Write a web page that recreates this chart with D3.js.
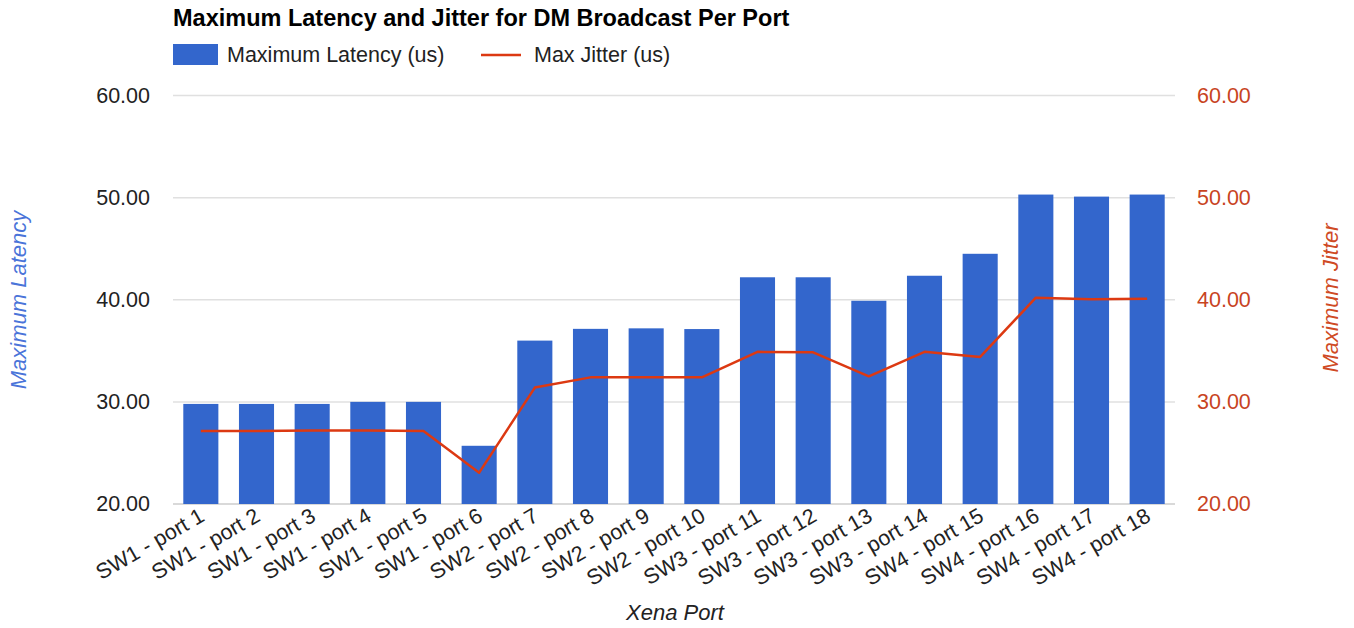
<!DOCTYPE html>
<html>
<head>
<meta charset="utf-8">
<script src="https://cdn.jsdelivr.net/npm/d3@7"></script>
<style>
  body { margin: 0; background: #fff; }
  svg { font-family: "Liberation Sans", Arial, sans-serif; }
</style>
</head>
<body>
<svg id="chart" width="1354" height="628"></svg>
<script>
// Ports tested and their measured results (microseconds)
const ports = [
  "SW1 - port 1", "SW1 - port 2", "SW1 - port 3", "SW1 - port 4", "SW1 - port 5", "SW1 - port 6",
  "SW2 - port 7", "SW2 - port 8", "SW2 - port 9", "SW2 - port 10",
  "SW3 - port 11", "SW3 - port 12", "SW3 - port 13", "SW3 - port 14",
  "SW4 - port 15", "SW4 - port 16", "SW4 - port 17", "SW4 - port 18"
];
const maxLatency = [29.8, 29.8, 29.8, 30.0, 30.0, 25.7, 36.0, 37.15, 37.2, 37.13,
                    42.2, 42.2, 39.9, 42.35, 44.5, 50.3, 50.1, 50.3];
const maxJitter = [27.15, 27.15, 27.2, 27.2, 27.15, 23.07, 31.4, 32.4, 32.4, 32.4,
                   34.9, 34.85, 32.5, 34.9, 34.4, 40.2, 40.05, 40.1];
const axisTicks = [20, 30, 40, 50, 60];

const barColor = "#3366cc";
const lineColor = "#dc3912";
const fontFamily = "Liberation Sans, Arial, sans-serif";

const svg = d3.select("#chart");
const plotLeft = 173, plotRight = 1175, plotTop = 95.5, plotBottom = 504;

const x = d3.scaleBand().domain(ports).range([plotLeft, plotRight]).paddingInner(0.37).paddingOuter(0.185);
const yL = d3.scaleLinear().domain([20, 60]).range([plotBottom, plotTop]);
const yR = d3.scaleLinear().domain([20, 60]).range([plotBottom, plotTop]);

// Gridlines
svg.append("g").selectAll("line").data(axisTicks).join("line")
  .attr("x1", plotLeft).attr("x2", plotRight)
  .attr("y1", d => yL(d)).attr("y2", d => yL(d))
  .attr("stroke", d => d === 20 ? "#cccccc" : "#e0e0e0").attr("stroke-width", 1.5);

// Left axis
const leftAxis = svg.append("g").attr("transform", `translate(${plotLeft - 23},0)`)
  .call(d3.axisLeft(yL).tickValues(axisTicks).tickFormat(d3.format(".2f")).tickSize(0).tickPadding(0));
leftAxis.select(".domain").remove();
leftAxis.selectAll("text").attr("font-size", 21.5).attr("fill", "#222").attr("font-family", fontFamily);

// Right axis
const rightAxis = svg.append("g").attr("transform", `translate(${plotRight + 22},0)`)
  .call(d3.axisRight(yR).tickValues(axisTicks).tickFormat(d3.format(".2f")).tickSize(0).tickPadding(0));
rightAxis.select(".domain").remove();
rightAxis.selectAll("text").attr("font-size", 21.5).attr("fill", "#c8441f").attr("font-family", fontFamily);

// Bars
svg.append("g").selectAll("rect").data(ports).join("rect")
  .attr("x", d => x(d))
  .attr("width", x.bandwidth())
  .attr("y", (d, i) => yL(maxLatency[i]))
  .attr("height", (d, i) => plotBottom - yL(maxLatency[i]))
  .attr("fill", barColor);

// Jitter line
const line = d3.line()
  .x((d, i) => x(ports[i]) + x.bandwidth() / 2)
  .y(d => yR(d));
svg.append("path").datum(maxJitter)
  .attr("d", line)
  .attr("fill", "none")
  .attr("stroke", lineColor)
  .attr("stroke-width", 2.5)
  .attr("stroke-linejoin", "round");

// X axis labels
const xAxis = svg.append("g").attr("transform", `translate(0,${plotBottom})`)
  .call(d3.axisBottom(x).tickSize(0).tickPadding(0));
xAxis.select(".domain").remove();
xAxis.selectAll("text")
  .attr("font-size", 21.5)
  .attr("fill", "#222")
  .attr("font-family", fontFamily)
  .attr("text-anchor", "end")
  .attr("dy", null)
  .attr("transform", "translate(5,16) rotate(-30)");

// Axis titles
svg.append("text")
  .attr("transform", `translate(26,300) rotate(-90)`)
  .attr("text-anchor", "middle")
  .attr("font-size", 22).attr("font-style", "italic")
  .attr("fill", "#4a74d9")
  .text("Maximum Latency");
svg.append("text")
  .attr("transform", `translate(1338,298) rotate(-90)`)
  .attr("text-anchor", "middle")
  .attr("font-size", 22).attr("font-style", "italic")
  .attr("fill", "#cf4a24")
  .text("Maximum Jitter");
svg.append("text")
  .attr("x", 675).attr("y", 620)
  .attr("text-anchor", "middle")
  .attr("font-size", 22).attr("font-style", "italic")
  .attr("fill", "#222")
  .text("Xena Port");

// Title
svg.append("text")
  .attr("x", 173).attr("y", 26)
  .attr("font-size", 23.5).attr("font-weight", "bold")
  .attr("fill", "#000")
  .text("Maximum Latency and Jitter for DM Broadcast Per Port");

// Legend
svg.append("rect").attr("x", 173).attr("y", 44).attr("width", 45).attr("height", 21).attr("fill", barColor);
svg.append("text").attr("x", 227).attr("y", 62).attr("font-size", 21.5).attr("fill", "#222").text("Maximum Latency (us)");
svg.append("line").attr("x1", 481).attr("x2", 521).attr("y1", 55).attr("y2", 55)
  .attr("stroke", lineColor).attr("stroke-width", 2.5);
svg.append("text").attr("x", 534).attr("y", 62).attr("font-size", 21.5).attr("fill", "#222").text("Max Jitter (us)");
</script>
</body>
</html>
